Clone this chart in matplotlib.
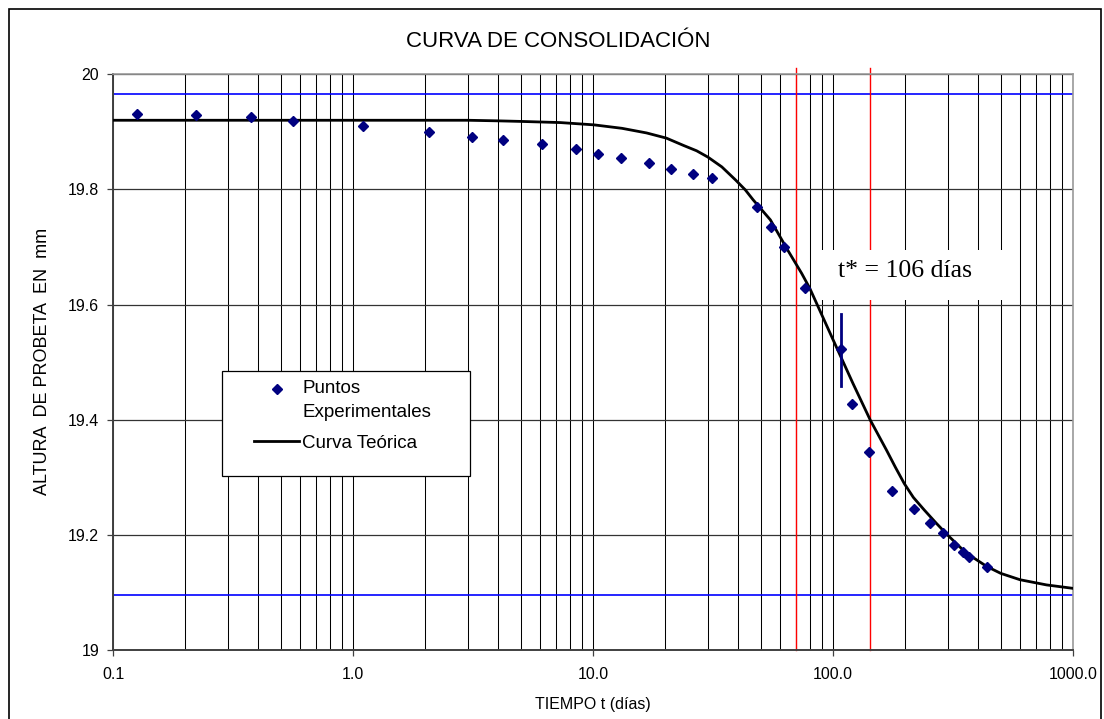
import numpy as np
import matplotlib.pyplot as plt
from matplotlib.patches import Rectangle
from matplotlib.lines import Line2D
from matplotlib.ticker import FixedLocator, FuncFormatter, NullFormatter

plt.rcParams['font.family'] = ['Liberation Sans', 'DejaVu Sans']

# ---- datos ----
t_exp = [0.126, 0.221, 0.375, 0.562, 1.10, 2.07, 3.13, 4.2, 6.13, 8.5, 10.5,
         13.1, 17.1, 21.2, 26.2, 31.2, 48.3, 55.0, 62.4, 76.4, 108.0, 120.3,
         140.8, 176.0, 218.0, 253.6, 288.2, 318.3, 348.1, 369.8, 436.7]
h_exp = [19.931, 19.929, 19.925, 19.918, 19.910, 19.899, 19.891, 19.886, 19.878,
         19.870, 19.861, 19.854, 19.846, 19.836, 19.827, 19.820, 19.769, 19.735,
         19.700, 19.629, 19.523, 19.428, 19.343, 19.276, 19.245, 19.220, 19.204,
         19.183, 19.170, 19.162, 19.144]

t_teo = [0.1, 3.0, 4.0, 5.0, 7.3, 10.1, 13.2, 16.7, 20.2, 23.9, 27.0, 30.1,
         34.4, 39.3, 43.1, 46.4, 54.8, 64.6, 74.0, 80.0, 103.0, 121.0, 143.0,
         167.0, 182.0, 198.0, 216.0, 240.0, 268.0, 296.0, 357.0, 437.0, 500.0,
         601.0, 775.0, 1000.0]
h_teo = [19.920, 19.920, 19.919, 19.918, 19.916, 19.912, 19.906, 19.898, 19.889,
         19.876, 19.867, 19.856, 19.839, 19.816, 19.799, 19.782, 19.747, 19.695,
         19.654, 19.628, 19.527, 19.463, 19.399, 19.347, 19.317, 19.289, 19.265,
         19.243, 19.221, 19.202, 19.169, 19.145, 19.133, 19.122, 19.113, 19.107]

h_inicial = 19.966     # linea azul superior
h_final = 19.096       # linea azul inferior
t_rojas = [70.0, 143.0]
t_star = 108.0
barra = [19.458, 19.583]

x_ticks = [0.1, 1.0, 10.0, 100.0, 1000.0]
y_ticks = [19.0, 19.2, 19.4, 19.6, 19.8, 20.0]

# ---- figura ----
fig = plt.figure(figsize=(11.04, 7.19), dpi=100)
ax = fig.add_axes([0.1024, 0.0960, 0.8696, 0.8008])

ax.set_xscale('log')
ax.set_xlim(0.1, 1000)
ax.set_ylim(19, 20)

minors = [m * 10.0 ** e for e in range(-1, 3) for m in range(2, 10)]
ax.xaxis.set_major_locator(FixedLocator(x_ticks))
ax.xaxis.set_minor_locator(FixedLocator(minors))
ax.xaxis.set_major_formatter(FuncFormatter(lambda v, p: '%.1f' % v))
ax.xaxis.set_minor_formatter(NullFormatter())
ax.yaxis.set_major_locator(FixedLocator(y_ticks))
ax.yaxis.set_major_formatter(FuncFormatter(lambda v, p: '%g' % round(v, 1)))

ax.grid(True, which='both', axis='x', color='black', lw=0.75)
ax.grid(True, which='major', axis='y', color='#333333', lw=0.9)
ax.set_axisbelow(True)

ax.tick_params(axis='both', which='major', direction='out', length=4,
               width=0.9, color='#404040', labelsize=11.5)
ax.tick_params(axis='y', pad=6)
ax.tick_params(axis='x', pad=8)
ax.tick_params(axis='x', which='minor', length=0)

for s in ['left', 'bottom']:
    ax.spines[s].set_color('#404040')
    ax.spines[s].set_linewidth(1.4)
for s in ['top', 'right']:
    ax.spines[s].set_color('#999999')
    ax.spines[s].set_linewidth(1.2)

# lineas de referencia
ax.axhline(h_inicial, color='#0000ff', lw=1.2, zorder=2)
ax.axhline(h_final, color='#0000ff', lw=1.2, zorder=2)
for tr in t_rojas:
    ax.plot([tr, tr], [19.0, 20.011], color='#ff0000', lw=1.0, zorder=2, clip_on=False)

ax.plot(t_teo, h_teo, color='black', lw=2.0, zorder=4, label='Curva Teórica')
ax.plot(t_exp, h_exp, ls='none', marker='D', ms=5.6, color='#000080',
        mec='#000080', zorder=5, label='Puntos\nExperimentales')
ax.plot([t_star, t_star], barra, color='#000080', lw=2.0, zorder=5)

# cuadro t*
ax.add_patch(Rectangle((0.731, 0.608), 0.203, 0.086, transform=ax.transAxes,
                       facecolor='white', edgecolor='none', zorder=3))
ax.text(0.8245, 0.658, 't* = 106 días', transform=ax.transAxes, ha='center',
        va='center', fontsize=18.5, family=['Liberation Serif', 'DejaVu Serif'],
        zorder=6)

# leyenda
ax.add_patch(Rectangle((0.1135, 0.302), 0.2585, 0.1825, transform=ax.transAxes,
                       facecolor='white', edgecolor='black', lw=0.9, zorder=6))
handles = [Line2D([], [], ls='none', marker='D', ms=5.6, color='#000080'),
           Line2D([], [], color='black', lw=2.0)]
leg = ax.legend(handles, ['Puntos\nExperimentales', 'Curva Teórica'],
                loc='upper left', bbox_to_anchor=(0.1296, 0.4976), frameon=False,
                fontsize=13.5, handlelength=2.4, handletextpad=0.15,
                labelspacing=0.75)
leg.set_zorder(7)
for txt in leg.get_texts():
    txt.set_linespacing(1.49)
# el rombo va a la altura de la primera linea, como en Excel
mk = leg.legend_handles[0]
mk.set_ydata(np.asarray(mk.get_ydata()) + 8.5)

ax.set_xlabel('TIEMPO t (días)', fontsize=11.5, labelpad=11)
fig.text(43 / 1104, 1 - 361 / 719, 'ALTURA  DE PROBETA  EN  mm', rotation=90,
         ha='center', va='center', fontsize=13)
fig.text(558 / 1104, 1 - 41.5 / 719, 'CURVA DE CONSOLIDACIÓN', ha='center',
         va='center', fontsize=16)

# borde del area del grafico
fig.add_artist(Rectangle((9 / 1104, -0.01), 1092 / 1104, 1 - 9 / 719 + 0.01,
                         transform=fig.transFigure, facecolor='none',
                         edgecolor='black', lw=1.2))

fig.savefig('out.png', dpi=100)
